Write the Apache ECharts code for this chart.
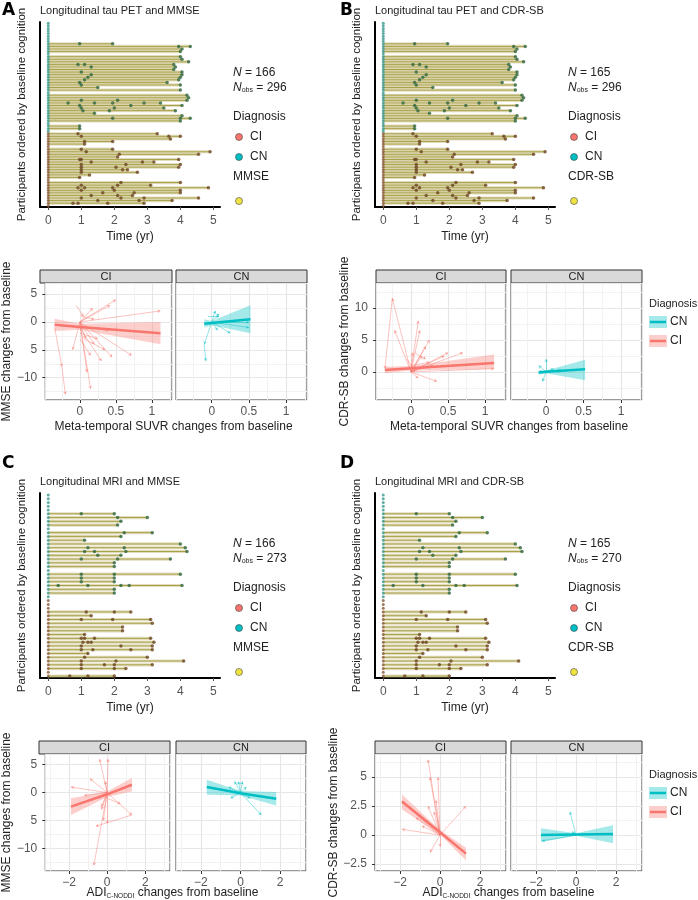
<!DOCTYPE html>
<html><head><meta charset="utf-8">
<script src="https://cdn.jsdelivr.net/npm/echarts@6/dist/echarts.min.js"></script>
<style>html,body{margin:0;padding:0;background:#fff}#c{width:698px;height:900px}</style>
</head><body><div id="c"></div>
<script>
// ---------- DATA ----------
// follow-up visit times (yr) per participant, ordered by baseline cognition (CN top, CI bottom)
const petCN = [[],[],[],[],[],[],[],[],[0.95,1.95],[3.95,4.3],[4.05],[4.0],[],[4.0],[4.05],[4.25],[0.9,1.1,3.8],[1.3,3.85],[3.8],[1.0,4.05],[1.3,4.05],[1.2,4.0],[1.1,3.95],[0.95,3.6],[1.0,4.0],[1.5],[4.0],[],[4.2],[4.25],[1.0,2.1,4.2],[0.6,1.4,1.95,2.9,3.4],[0.95,2.5,4.05],[1.0,2.0,3.5],[1.05,1.85,3.85],[1.4],[4.05],[1.95,4.0,4.3],[4.0],[],[0.95],[0.95],[]];
const petCI = [[0.9,3.3],[1.0,3.65,4.0],[3.7],[1.1,1.95],[1.1],[],[1.0,1.95],[1.15,4.9],[2.15,4.55],[2.1],[0.95,1.0,3.95],[1.3,2.85,3.2],[1.0,2.35,4.0],[1.0,2.05,3.95],[1.0,2.25,2.4],[1.0,2.7],[1.25],[0.95],[],[2.2,4.0],[1.0,2.1,3.1],[0.9,1.1,1.95,4.85],[1.0,2.0,4.0],[1.65,2.6,4.0],[1.3,2.1,2.55],[1.0,2.2,2.9,4.55],[1.5,2.75,3.75],[0.75,0.9,1.8,2.9],[]];
const mriCN = [[],[],[],[],[],[1.0,2.0],[2.1,3.0],[2.2],[2.1],[],[2.3,3.15],[2.2],[1.1],[4.0],[1.2,2.3,4.15],[1.1,1.4,2.35,4.2],[1.5,2.2],[1.0,2.1,3.7],[2.0],[2.0],[],[1.0,2.0,4.0],[1.0,2.0],[1.0,2.0],[0.3,1.2,2.2,2.45,4.05],[2.0],[2.0],[]];
const mriCI = [[],[],[],[1.15,2.0,2.5],[1.3],[1.0,1.95,3.1],[3.15],[2.25],[2.25],[1.1],[1.0,1.1,1.4,3.1],[1.05,1.2,1.3,3.2],[1.0,2.2,3.15],[1.0,1.35,2.5,3.15],[1.2],[1.1,3.0],[1.0,2.05,4.1],[1.0,1.7,2.0,3.15],[1.0,2.0,2.35],[],[0.65,1.2,2.0]];
const panelTitles = ['Longitudinal tau PET and MMSE','Longitudinal tau PET and CDR-SB','Longitudinal MRI and MMSE','Longitudinal MRI and CDR-SB'];
const nSubjects = [166,165,166,165];
const nObs = [296,296,273,270];
const outcomeNames = ['MMSE','CDR-SB','MMSE','CDR-SB'];

// change segments [x0,y0,x1,y1]
const segA_CI = [[0,0,0.18,2.5],[0,0,0.5,4],[0,0,1.12,2],[0,0,0.42,3],[0,0,0.72,-6],[0,0,0.45,-6.3],[-0.35,-1,-0.25,-8],[-0.25,-8,-0.2,-13],[0,0,0.15,-12],[0,-1,0.3,-7],[0,0,0.1,-9],[0.05,-3,0.35,-5],[0,0,0.2,-4],[-0.05,3,0.05,1],[0,-2,0.25,-3],[0,0,-0.1,-5],[0.1,-1,0.4,-1.5],[0,0,0.08,-3],[0.02,1,0.2,0.5],[0,-3,0.15,-6]];
const segA_CN = [[0,0,-0.1,-4],[-0.1,-4,-0.08,-7],[0,0,0.05,2],[0,0,0.1,1.5],[0,0,0.25,-2],[0,0,0.5,-1],[0,0,0.5,0],[0,0,0.08,-1.5],[-0.05,1,0.1,1]];
const segB_CI = [[0,0,-0.25,11.5],[-0.25,11.5,-0.35,0.5],[0,0,-0.22,6.5],[0,0,0.1,8],[0,0,0.12,6.5],[0,0,0.25,5],[0,0,0.2,4],[0,0,0.7,3],[0,0,0.5,3],[0,0,0.45,2.5],[0,0,1.12,0.5],[0,0,0.35,-1.5],[0,0,0.15,2.5],[0.05,3,0.2,2],[0,0,0.1,-1],[0,0,0.3,1],[-0.05,2,0.05,0],[0,0,0.02,3],[0,1,0.25,1.5]];
const segB_CN = [[0,0,-0.1,1],[0,0,0,2],[0,0,-0.05,-1.5],[0,0,0.1,0.5],[0,0,0.2,0.3],[0,0,-0.1,0]];
const segC_CI = [[0,0,-0.4,6],[0,0,0.05,6],[0,0,-0.9,2.5],[0,0,-1.9,1],[0,0,1.3,-4],[1.3,-4,-0.6,-6],[0,0,-0.7,-13],[0,0,-0.3,-3],[0,0,-0.2,-5],[0,0,0,-5.5],[0,0,-0.5,-1],[0,0,-1.2,-0.5],[0,-1,0.7,-2],[0,0,-0.3,-2.5],[0,0,-0.1,2]];
const segC_CN = [[0,0,-0.3,2],[0,0,-0.1,2],[0,0,0.1,2],[0,0,1.05,-4],[0,0,-0.6,1],[0,0,0.5,-1],[0,0,-0.5,-1],[0,0,0.3,1]];
const segD_CI = [[0,0,-1.9,2.9],[0,0,-0.6,6.5],[0,0,-0.5,5],[0,0,-0.1,5],[0,0,1.3,2.5],[0,0,-1.2,1.5],[0,0,-1.9,0.5],[0,0,-0.5,-1.5],[0,0,-0.3,2],[0,0,-0.9,0.8],[0,0,0,-1],[0,0,-0.6,2.5],[0,0,-0.2,3]];
const segD_CN = [[0,0,-0.3,2],[0,0,-1.7,-0.5],[0,0,-0.2,0.3]];

// regression fits: x, fitted y, lower, upper
const fitA_CI = {x:[-0.35,0,1.12], y:[-0.5,-0.9,-2], lo:[-1.6,-1.4,-4], hi:[0.6,-0.3,0]};
const fitA_CN = {x:[-0.1,0,0.52], y:[-0.3,-0.2,0.5], lo:[-1.0,-0.6,-2], hi:[0.5,0.2,3]};
const fitB_CI = {x:[-0.35,0,1.12], y:[0.3,0.55,1.4], lo:[-0.2,0.2,0.5], hi:[0.8,0.9,2.7]};
const fitB_CN = {x:[-0.1,0,0.52], y:[-0.1,0,0.4], lo:[-0.4,-0.2,-1.3], hi:[0.2,0.2,1.9]};
const fitC_CI = {x:[-1.9,0,1.3], y:[-2.5,-0.3,1.4], lo:[-4,-0.8,0.2], hi:[-1,0.2,2.6]};
const fitC_CN = {x:[-1.7,0,1.8], y:[1.0,-0.1,-1.1], lo:[-0.4,-0.5,-2.3], hi:[2.3,0.3,0.1]};
const fitD_CI = {x:[-1.9,0,1.3], y:[2.9,0.25,-1.6], lo:[2.2,0.05,-2.2], hi:[3.5,0.45,-1.1]};
const fitD_CN = {x:[-1.75,0,1.85], y:[0,0.05,0.1], lo:[-0.6,-0.05,-0.7], hi:[0.6,0.15,0.85]};

// ---------- BUILD ----------
const FONT = 'Liberation Sans';
const RED = '#F8766D', TEAL = '#00BFC4';
const grids = [], xAxes = [], yAxes = [], series = [], graphic = [];

function txt(x,y,t,o){graphic.push({type:'text',x:x,y:y,style:Object.assign({text:t,fontFamily:FONT,fontSize:11,fill:'#222'},o||{})});}

const topCfg = [
 {L:'A',lx:2,ly:2,gx:40,gy:22,cn:petCN,ci:petCI},
 {L:'B',lx:340,ly:2,gx:375,gy:22,cn:petCN,ci:petCI},
 {L:'C',lx:2,ly:455,gx:40,gy:493,cn:mriCN,ci:mriCI},
 {L:'D',lx:340,ly:455,gx:375,gy:493,cn:mriCN,ci:mriCI}
];
topCfg.forEach((p,k)=>{
  const g = grids.length;
  grids.push({left:p.gx,top:p.gy,width:180,height:185});
  xAxes.push({gridIndex:g,type:'value',position:'bottom',min:-0.25,max:5.2,minInterval:1,maxInterval:1,
    axisLine:{onZero:false,lineStyle:{color:'#000',width:2}},axisTick:{lineStyle:{color:'#555'},length:3},
    axisLabel:{color:'#555',fontSize:12,fontFamily:FONT,showMinLabel:false,showMaxLabel:false},splitLine:{show:false},
    name:'Time (yr)',nameLocation:'middle',nameGap:24,nameTextStyle:{fontSize:12,fontFamily:FONT,color:'#222'}});
  const rows = p.cn.map(v=>({v,g:'CN'})).concat(p.ci.map(v=>({v,g:'CI'})));
  yAxes.push({gridIndex:g,type:'value',position:'left',inverse:true,min:-0.5,max:rows.length-0.5,
    axisLine:{show:true,onZero:false,lineStyle:{color:'#000',width:2}},axisTick:{show:false},axisLabel:{show:false},splitLine:{show:false},
    name:'Participants ordered by baseline cognition',nameLocation:'middle',nameGap:12,
    nameTextStyle:{fontSize:11.5,fontFamily:FONT,color:'#222'}});
  const segData = rows.map((r,i)=>[i, r.v.length?Math.max.apply(null,r.v):0]);
  series.push({type:'custom',xAxisIndex:g,yAxisIndex:g,data:segData,encode:{x:1,y:0},silent:true,
    renderItem:(pr,api)=>{const a=api.coord([0,api.value(0)]),b=api.coord([api.value(1),api.value(0)]);
      return {type:'group',children:[
        {type:'rect',shape:{x:a[0],y:a[1]-1.6,width:b[0]-a[0],height:3.2},style:{fill:'rgba(190,180,110,0.45)'}},
        {type:'line',shape:{x1:a[0],y1:a[1],x2:b[0],y2:b[1]},style:{stroke:'#a29a3a',lineWidth:0.9}}]};}});
  ['CN','CI'].forEach(grp=>{
    const pts=[];rows.forEach((r,i)=>{if(r.g===grp)r.v.forEach(t=>pts.push([t,i]));});
    series.push({type:'scatter',xAxisIndex:g,yAxisIndex:g,data:pts,symbolSize:3.5,silent:true,
      itemStyle:{color:grp==='CN'?'#2f6640':'#6d4522'}});
    const base=[];rows.forEach((r,i)=>{if(r.g===grp)base.push([0,i]);});
    series.push({type:'scatter',xAxisIndex:g,yAxisIndex:g,data:base,symbolSize:3,silent:true,
      itemStyle:{color:grp==='CN'?'#3a9a8e':'#8a5a3a'}});
  });
  txt(p.lx,p.ly,p.L,{fontSize:17,fontWeight:'bold',fill:'#000',fontFamily:'DejaVu Sans'});
  txt(p.gx,p.gy-17,panelTitles[k],{fontSize:11});
  const nx=p.gx+193, ny=p.gy+45;
  graphic.push({type:'text',x:nx,y:ny,style:{text:'{i|N} = '+nSubjects[k],fontFamily:FONT,fontSize:12,fill:'#222',rich:{i:{fontStyle:'italic',fontSize:12,fontFamily:FONT}}}});
  graphic.push({type:'text',x:nx,y:ny+14,style:{text:'{i|N}{s|obs} = '+nObs[k],fontFamily:FONT,fontSize:12,fill:'#222',rich:{i:{fontStyle:'italic',fontSize:12,fontFamily:FONT},s:{fontSize:7,fontFamily:FONT,verticalAlign:'bottom',padding:[6,0,0,0]}}}});
  txt(nx,ny+44,'Diagnosis',{fontSize:12});
  [[RED,'CI',64],[TEAL,'CN',84],['#F0E442','',128]].forEach(d=>{
    graphic.push({type:'circle',shape:{cx:nx+6,cy:ny+d[2]+6,r:3.5},style:{fill:d[0],stroke:'#444',lineWidth:0.6}});
    if(d[1])txt(nx+17,ny+d[2],d[1],{fontSize:12});
  });
  txt(nx,ny+104,outcomeNames[k],{fontSize:12});
});

const botCfg = [
 {y:283,ci:[40,172],cn:[176,307],xr:[-0.48,1.28],xi:0.5,yr:[-14,7],yi:5,segs:[segA_CI,segA_CN],fits:[fitA_CI,fitA_CN],yname:'MMSE changes from baseline',xname:'Meta-temporal SUVR changes from baseline',legend:false,tg:21},
 {y:283,ci:[376,506],cn:[511,642],xr:[-0.47,1.28],xi:0.5,yr:[-4.4,13.9],yi:5,segs:[segB_CI,segB_CN],fits:[fitB_CI,fitB_CN],yname:'CDR-SB changes from baseline',xname:'Meta-temporal SUVR changes from baseline',legend:true,tg:21},
 {y:754,ci:[39,170],cn:[176,306],xr:[-3.25,3.3],xi:2,yr:[-14,6.9],yi:5,segs:[segC_CI,segC_CN],fits:[fitC_CI,fitC_CN],yname:'MMSE changes from baseline',xname:'ADI',legend:false,tg:15},
 {y:754,ci:[375,506],cn:[511,642],xr:[-3.25,3.3],xi:2,yr:[-3.1,7],yi:2.5,segs:[segD_CI,segD_CN],fits:[fitD_CI,fitD_CN],yname:'CDR-SB changes from baseline',xname:'ADI',legend:true,tg:15}
];
const H=117;
botCfg.forEach(p=>{
  [p.ci,p.cn].forEach((xs,f)=>{
    const g=grids.length, col=f===0?RED:TEAL;
    grids.push({left:xs[0],top:p.y,width:xs[1]-xs[0],height:H,show:true,borderColor:'#333',borderWidth:1,backgroundColor:'#fff'});
    xAxes.push({gridIndex:g,type:'value',position:'bottom',min:p.xr[0],max:p.xr[1],minInterval:p.xi,maxInterval:p.xi,
      axisLine:{show:false,onZero:false},axisTick:{show:true,length:3,lineStyle:{color:'#333'}},
      axisLabel:{color:'#555',fontSize:12,fontFamily:FONT,margin:6,showMinLabel:false,showMaxLabel:false,formatter:v=>String(v).replace('-','\u2212')},
      splitLine:{show:true,lineStyle:{color:'#e6e6e6',width:1.2}},minorTick:{show:false,splitNumber:2},minorSplitLine:{show:true,lineStyle:{color:'#f2f2f2'}}});
    yAxes.push({gridIndex:g,type:'value',position:'left',min:p.yr[0],max:p.yr[1],minInterval:p.yi,maxInterval:p.yi,
      axisLine:{show:false,onZero:false},axisTick:{show:f===0,length:3,lineStyle:{color:'#333'}},
      axisLabel:{show:f===0,color:'#555',fontSize:12,fontFamily:FONT,showMinLabel:false,showMaxLabel:false,
        formatter:v=>(v===-5?'5':String(v).replace('-','\u2212'))},
      splitLine:{show:true,lineStyle:{color:'#e6e6e6',width:1.2}},minorTick:{show:false,splitNumber:2},minorSplitLine:{show:true,lineStyle:{color:'#f2f2f2'}},
      name:f===0?p.yname:'',nameLocation:'middle',nameGap:p.yi===2.5?30:24,nameTextStyle:{fontSize:12,fontFamily:FONT,color:'#222'}});
    const fit=p.fits[f];
    series.push({type:'custom',xAxisIndex:g,yAxisIndex:g,data:fit.x.map((x,i)=>[x,fit.lo[i],fit.hi[i]]),encode:{x:0,y:[1,2]},silent:true,z:3,
      renderItem:(pr,api)=>{if(pr.dataIndex!==0)return;
        const pts=fit.x.map((x,i)=>api.coord([x,fit.hi[i]])).concat(fit.x.map((x,i)=>api.coord([x,fit.lo[i]])).reverse());
        return {type:'polygon',shape:{points:pts},style:{fill:col,opacity:0.35}};}});
    series.push({type:'lines',coordinateSystem:'cartesian2d',xAxisIndex:g,yAxisIndex:g,silent:true,z:4,
      data:p.segs[f].map(s=>({coords:[[s[0],s[1]],[s[2],s[3]]]})),
      symbol:['none','arrow'],symbolSize:3,lineStyle:{color:col,width:0.8,opacity:0.55}});
    series.push({type:'line',xAxisIndex:g,yAxisIndex:g,data:fit.x.map((x,i)=>[x,fit.y[i]]),symbol:'none',silent:true,z:5,
      lineStyle:{color:col,width:2.5}});
    graphic.push({type:'rect',shape:{x:xs[0],y:p.y-13,width:xs[1]-xs[0],height:13},style:{fill:'#d9d9d9',stroke:'#333',lineWidth:1}});
    graphic.push({type:'text',x:(xs[0]+xs[1])/2,y:p.y-6.5,style:{text:f===0?'CI':'CN',fontFamily:FONT,fontSize:11,fill:'#222',align:'center',verticalAlign:'middle'}});
  });
  const cx=(p.ci[0]+p.cn[1])/2, ty=p.y+H+p.tg;
  if(p.xname==='ADI'){
    graphic.push({type:'text',x:cx,y:ty,style:{text:'ADI{s|C-NODDI} changes from baseline',fontFamily:FONT,fontSize:12,fill:'#222',align:'center',
      rich:{s:{fontSize:6.5,fontFamily:FONT,verticalAlign:'bottom',padding:[7,0,0,0]}}}});
  } else txt(cx,ty,p.xname,{fontSize:12,align:'center'});
  if(p.legend){
    const lx=649, ly=p.y+15;
    txt(lx,ly,'Diagnosis',{fontSize:11});
    [[TEAL,'CN',18],[RED,'CI',37]].forEach(d=>{
      graphic.push({type:'rect',shape:{x:lx,y:ly+d[2],width:18,height:12},style:{fill:d[0],opacity:0.35}});
      graphic.push({type:'line',shape:{x1:lx+1,y1:ly+d[2]+6,x2:lx+17,y2:ly+d[2]+6},style:{stroke:d[0],lineWidth:2.5}});
      txt(lx+21,ly+d[2],d[1],{fontSize:12});
    });
  }
});

const chart = echarts.init(document.getElementById('c'),null,{renderer:'canvas'});
chart.setOption({animation:false,backgroundColor:'#fff',grid:grids,xAxis:xAxes,yAxis:yAxes,series:series,graphic:graphic});
</script></body></html>
